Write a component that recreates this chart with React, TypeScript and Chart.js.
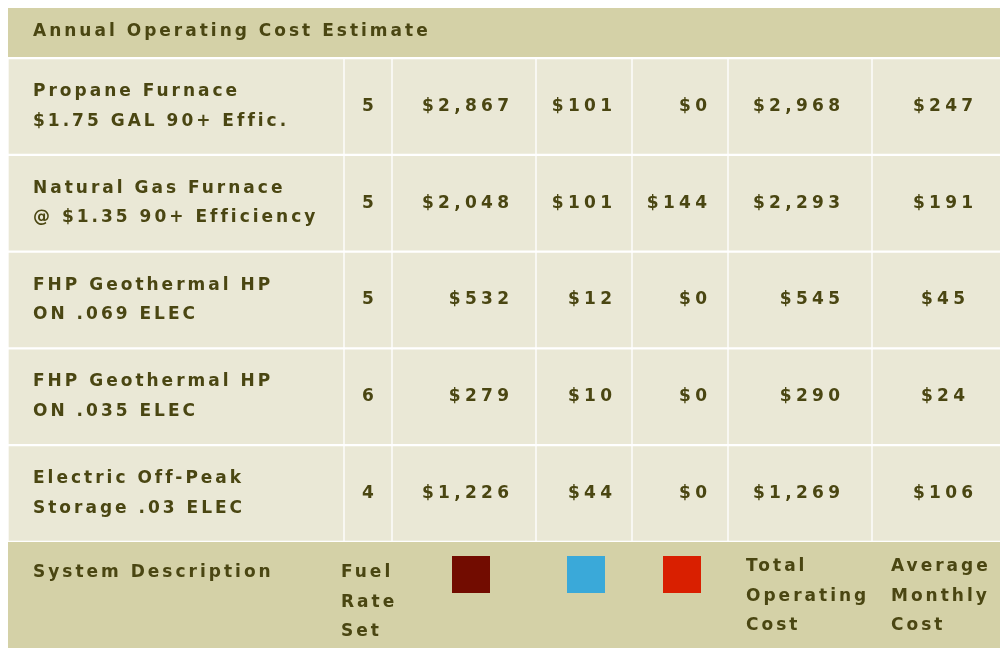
import React, { useEffect, useRef } from "react";
import { Chart, registerables } from "chart.js";

Chart.register(...registerables);

// ---------- data ----------
const title = "Annual Operating Cost Estimate";
const systemLine1 = [
  "Propane Furnace",
  "Natural Gas Furnace",
  "FHP Geothermal HP",
  "FHP Geothermal HP",
  "Electric Off-Peak",
];
const systemLine2 = [
  "$1.75 GAL 90+ Effic.",
  "@ $1.35 90+ Efficiency",
  "ON .069 ELEC",
  "ON .035 ELEC",
  "Storage .03 ELEC",
];
const fuelRateSet = [5, 5, 5, 6, 4];
const fuelCost = [2867, 2048, 532, 279, 1226];
const blueCost = [101, 101, 12, 10, 44];
const redCost = [0, 144, 0, 0, 0];
const totalCost = [2968, 2293, 545, 290, 1269];
const monthlyCost = [247, 191, 45, 24, 106];
const footerLabels = [
  ["System Description"],
  ["Fuel", "Rate", "Set"],
  [],
  [],
  [],
  ["Total", "Operating", "Cost"],
  ["Average", "Monthly", "Cost"],
];
const swatchColors = ["#720c00", "#3aa9d9", "#d91f00"];

// ---------- layout / style ----------
const W = 1000;
const H = 643;
const TOP = 53;
const colEdges = [0, 336, 384, 528, 624, 720, 864, 1000];
const cellAlign = ["left", "center", "right", "right", "right", "right", "center"];
const cellPad = [25, 0, 27, 20, 21, 32, 3];
const footerX = [25, -3, 0, 0, 0, 18, 19];
const footerY = [31, 31, 0, 0, 0, 25, 25];
const swatchOffset = [7, 2, 2];
const TAN = "#d4d1a7";
const CELL = "#eae8d6";
const INK = "#4a4612";
const FONT = 'bold 17px "DejaVu Sans"';
const LS = 3;
const LS_NUM = 4.3;
const LINE = 29.5;

const money = (v: number) => "$" + v.toLocaleString("en-US");

function drawText(ctx: CanvasRenderingContext2D, text: string, x: number, y: number, align: string, ls = LS) {
  (ctx as any).letterSpacing = "0px";
  const base = ctx.measureText(text).width;
  const w = base + ls * (text.length - 1);
  let left = x;
  if (align === "right") left = x - w;
  else if (align === "center") left = x - w / 2;
  (ctx as any).letterSpacing = ls + "px";
  ctx.textAlign = "left";
  ctx.fillText(text, left, y);
  (ctx as any).letterSpacing = "0px";
}

function cellText(col: number, row: number): string[] {
  switch (col) {
    case 0:
      return [systemLine1[row], systemLine2[row]];
    case 1:
      return [String(fuelRateSet[row])];
    case 2:
      return [money(fuelCost[row])];
    case 3:
      return [money(blueCost[row])];
    case 4:
      return [money(redCost[row])];
    case 5:
      return [money(totalCost[row])];
    default:
      return [money(monthlyCost[row])];
  }
}

const tablePlugin = {
  id: "tablePlugin",
  beforeDatasetsDraw(chart: any) {
    const { ctx, chartArea } = chart;
    ctx.save();
    ctx.fillStyle = TAN;
    ctx.fillRect(0, 0, W, chartArea.top - 1);
    ctx.fillRect(0, chartArea.bottom, W, H - chartArea.bottom);
    ctx.restore();
  },
  afterDatasetsDraw(chart: any) {
    const { ctx, chartArea } = chart;
    ctx.save();
    ctx.font = FONT;
    ctx.fillStyle = INK;
    ctx.textBaseline = "middle";
    drawText(ctx, title, 25, (chartArea.top - 1) / 2 + 1, "left");
    chart.data.datasets.forEach((ds: any, col: number) => {
      const meta = chart.getDatasetMeta(col);
      meta.data.forEach((el: any, row: number) => {
        const left = Math.min(el.x, el.base);
        const right = Math.max(el.x, el.base);
        const cy = el.y;
        const lines = cellText(col, row);
        const align = cellAlign[col];
        let x = left + cellPad[col];
        if (align === "right") x = right - cellPad[col];
        if (align === "center") x = (left + right) / 2 + cellPad[col];
        const y0 = cy - ((lines.length - 1) * LINE) / 2;
        const ls = col >= 2 ? LS_NUM : LS;
        lines.forEach((t, i) => drawText(ctx, t, x, y0 + i * LINE, align, ls));
      });
      const el0 = meta.data[0];
      const left = Math.min(el0.x, el0.base);
      const right = Math.max(el0.x, el0.base);
      footerLabels[col].forEach((t, i) =>
        drawText(ctx, t, left + footerX[col], chartArea.bottom + footerY[col] + i * LINE, "left")
      );
      if (col >= 2 && col <= 4) {
        const k = col - 2;
        const cx = (left + right) / 2 + swatchOffset[k];
        ctx.fillStyle = swatchColors[k];
        ctx.fillRect(cx - 19, chartArea.bottom + 14, 38, 37);
        ctx.fillStyle = INK;
      }
    });
    ctx.restore();
  },
};

export default function App() {
  const ref = useRef<HTMLCanvasElement | null>(null);
  useEffect(() => {
    if (!ref.current) return;
    const rows = systemLine1.map((_, i) => i);
    const datasets = colEdges.slice(0, -1).map((start, c) => ({
      label: "col" + c,
      data: rows.map(() => [start, colEdges[c + 1]]),
      backgroundColor: CELL,
      borderColor: "#ffffff",
      borderWidth: { top: 1.5, bottom: 1.5, left: 1, right: 1 },
      borderSkipped: false,
      grouped: false,
      barPercentage: 1,
      categoryPercentage: 1,
    }));
    const chart = new Chart(ref.current, {
      type: "bar",
      data: { labels: systemLine1.map((s, i) => s + " " + systemLine2[i]), datasets: datasets as any },
      options: {
        indexAxis: "y",
        animation: false,
        responsive: false,
        events: [],
        layout: { padding: { top: TOP, bottom: H - TOP - 484, left: 0, right: 0 } },
        scales: {
          x: { type: "linear", min: 0, max: W, display: false },
          y: { type: "category", display: false, offset: true },
        },
        plugins: { legend: { display: false }, tooltip: { enabled: false }, title: { display: false } },
      },
      plugins: [tablePlugin],
    });
    return () => chart.destroy();
  }, []);
  return (
    <div style={{ width: W, height: H, marginTop: -3 }}>
      <canvas ref={ref} width={W} height={H} style={{ display: "block" }} />
    </div>
  );
}
